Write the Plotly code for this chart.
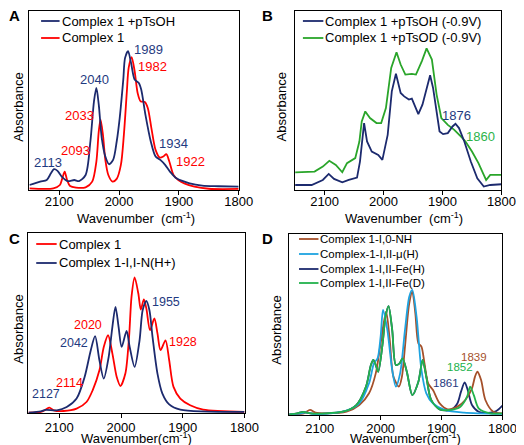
import plotly.graph_objects as go

# ---------------- DATA ----------------
# Panel A
a_wn_navy = [2150, 2132, 2121, 2114, 2109, 2103, 2096, 2086, 2075, 2067, 2056, 2048, 2042, 2038, 2034, 2029, 2023, 2017, 2010, 2004, 1999, 1993, 1990, 1985, 1980, 1974, 1967, 1963, 1956, 1947, 1939, 1931, 1923, 1915, 1904, 1882, 1861, 1834, 1800]
a_navy = [2.8, 4.7, 5.6, 9.3, 11.6, 10.7, 7.5, 5.0, 5.6, 5.0, 8.4, 27.1, 49.5, 57.0, 47.7, 29.0, 18.7, 14.4, 16.8, 27.1, 40.2, 61.7, 73.8, 77.6, 71.0, 61.7, 59.8, 56.1, 42.1, 27.1, 18.7, 16.8, 14.0, 10.3, 6.5, 3.7, 2.4, 2.1, 1.9]
a_wn_red = [2150, 2110, 2099, 2095, 2091, 2087, 2082, 2072, 2056, 2045, 2038, 2034, 2031, 2027, 2023, 2018, 2011, 2004, 1997, 1992, 1987, 1984, 1979, 1974, 1969, 1964, 1957, 1952, 1946, 1939, 1932, 1926, 1921, 1916, 1909, 1901, 1891, 1874, 1850, 1800]
a_red = [0.9, 0.9, 2.8, 6.5, 10.3, 5.6, 2.2, 1.3, 1.5, 4.7, 15.9, 32.7, 39.3, 30.8, 16.8, 8.4, 4.7, 6.2, 14.0, 30.8, 55.1, 68.2, 74.2, 66.4, 54.2, 49.5, 49.2, 45.8, 34.6, 22.4, 18.1, 18.7, 20.0, 15.9, 8.4, 5.6, 3.7, 1.9, 0.7, 0.6]
a_names = ["Complex 1 +pTsOH", "Complex 1"]
a_peaks = ["1989", "1982", "2040", "2033", "2093", "2113", "1934", "1922"]

# Panel B
b_wn_navy = [2150, 2122, 2103, 2093, 2084, 2070, 2059, 2045, 2040, 2033, 2028, 2020, 2009, 2002, 1993, 1986, 1979, 1971, 1965, 1957, 1952, 1946, 1941, 1934, 1927, 1921, 1916, 1910, 1905, 1899, 1891, 1883, 1878, 1872, 1863, 1852, 1841, 1830, 1819, 1800]
b_navy = [2.8, 2.8, 5.6, 9.0, 6.2, 4.3, 5.6, 6.9, 15.9, 37.4, 27.1, 21.5, 19.6, 16.8, 30.8, 55.1, 64.9, 54.2, 52.3, 50.5, 51.0, 46.7, 42.4, 47.7, 57.0, 64.1, 57.0, 42.1, 32.7, 31.2, 31.8, 35.5, 37.0, 34.6, 27.1, 15.9, 6.5, 1.9, 2.8, 3.2]
b_wn_green = [2150, 2117, 2103, 2092, 2081, 2070, 2062, 2048, 2041, 2037, 2031, 2023, 2012, 2004, 1996, 1987, 1978, 1971, 1963, 1952, 1945, 1935, 1927, 1918, 1910, 1902, 1891, 1880, 1869, 1861, 1850, 1839, 1830, 1826, 1819, 1800]
b_green = [9.9, 10.3, 13.1, 16.3, 14.0, 9.9, 15.0, 17.8, 27.1, 38.3, 43.9, 40.2, 37.4, 37.4, 45.8, 68.2, 77.0, 70.1, 64.5, 64.9, 64.5, 72.0, 79.1, 72.9, 53.3, 40.2, 36.4, 33.6, 29.9, 27.1, 21.5, 15.0, 8.4, 5.6, 8.4, 8.4]
b_names = ["Complex 1 +pTsOH (-0.9V)", "Complex 1 +pTsOD (-0.9V)"]
b_peaks = ["1876", "1860"]

# Panel C
c_wn_red = [2150, 2130, 2122, 2116, 2109, 2093, 2072, 2056, 2046, 2035, 2028, 2021, 2014, 2007, 2001, 1993, 1987, 1983, 1978, 1972, 1968, 1963, 1959, 1953, 1946, 1941, 1936, 1928, 1922, 1915, 1904, 1888, 1867, 1800]
c_red = [0.2, 0.6, 1.9, 3.0, 1.5, 1.1, 2.4, 6.1, 12.6, 23.7, 36.7, 43.2, 33.0, 20.0, 15.0, 21.9, 42.3, 64.6, 75.3, 66.4, 57.5, 63.1, 58.1, 46.0, 52.5, 44.2, 34.9, 40.4, 29.3, 14.5, 8.0, 4.3, 1.9, 0.6]
c_wn_navy = [2150, 2130, 2122, 2104, 2088, 2072, 2059, 2049, 2042, 2035, 2028, 2020, 2014, 2009, 2004, 1999, 1991, 1986, 1978, 1970, 1965, 1959, 1954, 1949, 1941, 1933, 1922, 1904, 1800]
c_navy = [0.2, 0.9, 1.7, 1.5, 3.3, 8.0, 20.0, 34.9, 42.7, 29.3, 19.1, 31.2, 47.9, 59.0, 47.9, 36.7, 45.6, 36.7, 25.6, 40.4, 57.1, 62.3, 57.1, 42.3, 21.9, 10.8, 4.8, 1.9, 0.6]
c_names = ["Complex 1", "Complex 1-I,I-N(H+)"]
c_peaks = ["2020", "2042", "2114", "2127", "1955", "1928"]

# Panel D
d_wn_brown = [2150, 2126, 2116, 2107, 2088, 2056, 2035, 2019, 2008, 2000, 1991, 1985, 1979, 1970, 1965, 1960, 1953, 1948, 1943, 1938, 1933, 1928, 1922, 1914, 1903, 1890, 1874, 1861, 1850, 1845, 1841, 1835, 1828, 1815, 1800]
d_brown = [0.4, 0.9, 2.8, 1.3, 0.9, 1.8, 5.5, 12.0, 23.0, 39.6, 57.1, 41.4, 21.2, 15.7, 21.2, 37.8, 61.7, 68.1, 56.2, 39.6, 37.8, 28.5, 17.5, 13.8, 6.4, 3.1, 4.6, 8.3, 14.7, 21.2, 23.9, 19.3, 8.3, 1.8, 0.9]
d_wn_lblue = [2150, 2131, 2123, 2110, 2062, 2035, 2019, 2011, 2005, 2000, 1996, 1989, 1981, 1975, 1968, 1960, 1953, 1948, 1941, 1933, 1925, 1914, 1895, 1863, 1800]
d_lblue = [0.4, 0.9, 1.5, 0.6, 1.8, 6.4, 17.5, 28.5, 31.3, 43.3, 58.0, 47.0, 24.9, 15.7, 23.0, 47.0, 65.4, 69.1, 54.3, 24.9, 12.0, 6.4, 2.8, 1.3, 0.6]
d_wn_navy = [2150, 2137, 2127, 2115, 2062, 2040, 2024, 2016, 2012, 2008, 2004, 1997, 1992, 1987, 1981, 1975, 1969, 1964, 1957, 1948, 1938, 1931, 1925, 1917, 1903, 1885, 1874, 1868, 1862, 1857, 1850, 1839, 1820, 1810, 1800]
d_navy = [0.4, 0.9, 1.7, 0.9, 1.8, 5.5, 15.7, 27.6, 30.4, 27.6, 23.9, 38.7, 54.3, 60.2, 47.0, 27.6, 28.5, 31.3, 23.9, 11.0, 18.4, 30.4, 21.2, 8.3, 3.1, 2.8, 6.4, 12.9, 18.0, 13.8, 5.5, 1.8, 1.3, 2.2, 5.2]
d_wn_green = [2150, 2137, 2127, 2115, 2062, 2040, 2024, 2016, 2012, 2008, 2004, 1997, 1992, 1987, 1981, 1975, 1969, 1964, 1957, 1948, 1938, 1931, 1925, 1917, 1903, 1885, 1869, 1858, 1853, 1847, 1839, 1820, 1800]
d_green = [0.4, 0.9, 1.7, 0.9, 1.8, 5.5, 15.7, 27.6, 30.4, 27.6, 23.9, 38.7, 54.3, 60.2, 47.0, 27.6, 28.5, 31.3, 23.9, 11.0, 18.4, 30.4, 21.2, 8.3, 3.1, 2.8, 4.6, 10.1, 15.7, 11.0, 3.7, 0.9, 0.9]
d_names = ["Complex 1-I,0-NH", "Complex-1-I,II-μ(H)", "Complex 1-I,II-Fe(H)", "Complex 1-I,II-Fe(D)"]
d_peaks = ["1839", "1852", "1861"]

x_ticks = [2100, 2000, 1900, 1800]

# ---------------- STYLE / LAYOUT ----------------
W, H = 524, 445
NAVY = "#1c2a6e"
RED = "#ff0000"
GREEN_B = "#2aa52a"
BROWN = "#a5502a"
LBLUE = "#1ea3e0"
GREEN_D = "#22b24c"
FONT = "Liberation Sans, Arial, sans-serif"


def px(x):
    return x / W


def py(y):
    return 1 - y / H


fig = go.Figure()

# (left, right, top, bottom, tick-label standoff)
panels = {
    "": (22, 237, 3, 182, -5),
    "2": (295, 507, 3, 182, -5),
    "3": (21, 243, 225, 405, -2),
    "4": (289, 508, 226, 407, -3),
}

layout = dict(
    width=W, height=H, margin=dict(l=0, r=0, t=0, b=0),
    paper_bgcolor="white", plot_bgcolor="white",
    font=dict(family=FONT, size=13, color="black"),
    showlegend=False,
)
for k, (x0, x1, y0, y1, so) in panels.items():
    layout["xaxis" + k] = dict(
        domain=[px(x0), px(x1)], anchor="y" + k, range=[2150, 1800],
        tickvals=x_ticks, ticktext=[str(t) for t in x_ticks],
        ticks="outside", ticklen=4, tickcolor="black", tickfont=dict(size=13),
        ticklabelstandoff=so,
        showline=True, linecolor="black", linewidth=1, mirror=True,
        showgrid=False, zeroline=False,
    )
    layout["yaxis" + k] = dict(
        domain=[py(y1), py(y0)], anchor="x" + k, range=[0, 100],
        showticklabels=False, ticks="",
        showline=True, linecolor="black", linewidth=1, mirror=True,
        showgrid=False, zeroline=False,
    )
fig.update_layout(**layout)

LW = 1.8


def add(wn, vals, color, name, axis, shape="spline"):
    fig.add_trace(go.Scatter(
        x=wn, y=vals, mode="lines", name=name,
        line=dict(color=color, width=LW, shape=shape, smoothing=0.8 if shape == "spline" else None),
        xaxis="x" + axis, yaxis="y" + axis, hoverinfo="skip",
    ))


add(a_wn_red, a_red, RED, a_names[1], "")
add(a_wn_navy, a_navy, NAVY, a_names[0], "")
add(b_wn_green, b_green, GREEN_B, b_names[1], "2", shape="linear")
add(b_wn_navy, b_navy, NAVY, b_names[0], "2", shape="linear")
add(c_wn_red, c_red, RED, c_names[0], "3")
add(c_wn_navy, c_navy, NAVY, c_names[1], "3")
add(d_wn_navy, d_navy, NAVY, d_names[2], "4")
add(d_wn_brown, d_brown, BROWN, d_names[0], "4")
add(d_wn_lblue, d_lblue, LBLUE, d_names[1], "4")
add(d_wn_green, d_green, GREEN_D, d_names[3], "4")

ann = []
shapes = []


def text(x, y, s, color="black", size=13, xanchor="center", bold=False, angle=0, yanchor="middle"):
    ann.append(dict(
        x=px(x), y=py(y), xref="paper", yref="paper", text=("<b>%s</b>" % s) if bold else s,
        showarrow=False, xanchor=xanchor, yanchor=yanchor, textangle=angle,
        font=dict(family=FONT, size=size, color=color), borderpad=0,
    ))


def legend(x0, x1, ys, names, colors, size):
    for y, n, c in zip(ys, names, colors):
        shapes.append(dict(type="line", xref="paper", yref="paper",
                           x0=px(x0), x1=px(x1), y0=py(y), y1=py(y),
                           line=dict(color=c, width=LW)))
        text(x1 + 1, y, n, "black", size, xanchor="left")


# panel letters
text(7, 8, "A", size=15, bold=True)
text(267, 8, "B", size=15, bold=True)
text(7, 230, "C", size=15, bold=True)
text(267, 230, "D", size=15, bold=True)

# axis titles
for (x, y) in [(10, 99), (281, 99), (10, 321), (275, 322)]:
    text(x, y, "Absorbance", angle=-90)
text(131, 219, "Wavenumber  (cm<sup>-1</sup>)", yanchor="bottom")
text(407, 219, "Wavenumber  (cm<sup>-1</sup>)", yanchor="bottom")
text(132, 439, "Wavenumber(cm<sup>-1</sup>)", yanchor="bottom")
text(408, 439, "Wavenumber(cm<sup>-1</sup>)", yanchor="bottom")

# legends
legend(34, 53, [13, 30], a_names, [NAVY, RED], 13)
legend(303, 324, [13, 30], b_names, [NAVY, GREEN_B], 13)
legend(29, 50, [236, 255], [c_names[0], c_names[1]], [RED, NAVY], 13)
legend(299, 319, [231, 246, 261, 275], d_names, [BROWN, LBLUE, NAVY, GREEN_D], 11.5)

# peak labels
NAVY_T = "#1f3a80"
a_pos = [(144, 42, NAVY_T), (148, 58, RED), (89, 71, NAVY_T), (73, 107, RED),
         (69, 142, RED), (41, 154, NAVY_T), (170, 135, NAVY_T), (188, 153, RED)]
for s, (x, y, c) in zip(a_peaks, a_pos):
    text(x, y, s, c, 13)
b_pos = [(461, 107, NAVY_T), (485, 129, "#2db34a")]
for s, (x, y, c) in zip(b_peaks, b_pos):
    text(x, y, s, c, 13)
c_pos = [(82, 317, RED), (68, 335, NAVY_T), (63, 375, RED), (39, 386, NAVY_T),
         (162, 294, NAVY_T), (180, 334, RED)]
for s, (x, y, c) in zip(c_peaks, c_pos):
    text(x, y, s, c, 12.5)
d_pos = [(479, 349, BROWN), (464, 359, GREEN_D), (450, 375, NAVY_T)]
for s, (x, y, c) in zip(d_peaks, d_pos):
    text(x, y, s, c, 11.5)

fig.update_layout(annotations=ann, shapes=shapes)
fig.write_html("out.html")
